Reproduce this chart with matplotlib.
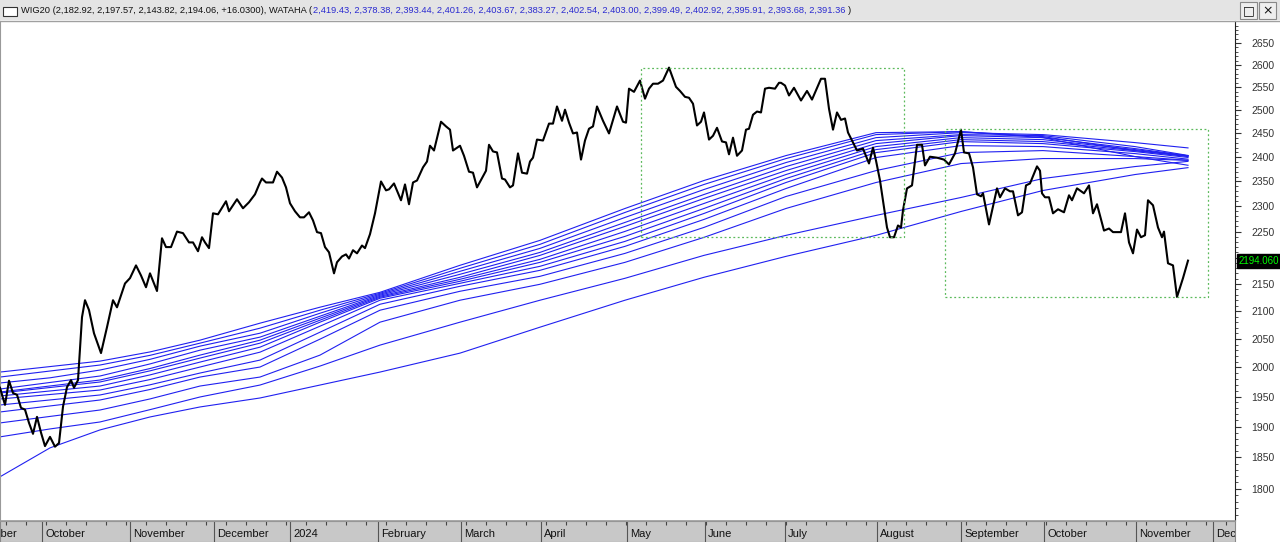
import matplotlib
matplotlib.use("Agg")
import matplotlib.pyplot as plt
from matplotlib.patches import Rectangle
from matplotlib.ticker import FixedLocator, NullFormatter
import numpy as np

# WIG20 daily closes as (session, close); one session ~ one trading day
wig20 = [
    (0, 1965), (1.25, 1936), (2.25, 1977), (3.25, 1956), (4.25, 1953), (5.25, 1931),
    (6.25, 1928), (7.25, 1906), (8.25, 1888), (9.25, 1916), (10.25, 1890), (11.25, 1868),
    (12.5, 1883), (13.75, 1867), (14.75, 1873), (15.75, 1933), (16.75, 1966), (17.75, 1978),
    (18.5, 1965), (19.5, 1978), (20.5, 2089), (21.25, 2120), (22.25, 2102), (23.5, 2060),
    (25.25, 2025), (26.75, 2071), (28.25, 2120), (29.25, 2107), (31.25, 2151), (32.5, 2161),
    (34, 2185), (35.25, 2166), (36.5, 2144), (37.5, 2170), (39.25, 2137), (40.5, 2237),
    (41.5, 2220), (42.75, 2220), (44.25, 2250), (45.75, 2247), (47.25, 2229), (48.25, 2229),
    (49.5, 2212), (50.5, 2239), (51.25, 2229), (52.25, 2218), (53.25, 2286), (54.5, 2284),
    (56.5, 2310), (57.25, 2290), (59.25, 2314), (60.75, 2296), (62.25, 2308), (63.75, 2324),
    (65, 2348), (65.5, 2356), (66.5, 2348), (68.25, 2348), (69.25, 2370), (70.5, 2358),
    (71.5, 2338), (72.5, 2306), (73.75, 2290), (75, 2278), (76, 2278), (77.25, 2288),
    (78.25, 2272), (79.25, 2249), (80.25, 2247), (81.25, 2220), (82.25, 2210), (83.5, 2170),
    (84.25, 2191), (85.5, 2202), (86.5, 2206), (87.25, 2198), (88.25, 2214), (89.25, 2208),
    (90.5, 2223), (91.25, 2218), (92.5, 2245), (93.75, 2286), (95.25, 2350), (96.5, 2332),
    (97.25, 2334), (98.5, 2346), (100.25, 2312), (101.25, 2344), (102.25, 2304), (103.25, 2348),
    (104.25, 2352), (105.75, 2379), (106.75, 2391), (107.5, 2424), (108.5, 2414), (110.25, 2475),
    (111.5, 2465), (112.5, 2458), (113.25, 2414), (115, 2424), (116, 2403), (117.25, 2370),
    (118.25, 2368), (119.25, 2338), (121.5, 2372), (122.25, 2426), (123.25, 2412), (124.25, 2410),
    (125.5, 2356), (126.25, 2354), (127.5, 2338), (128.25, 2342), (129.5, 2408), (130.5, 2368),
    (131.75, 2366), (132.5, 2391), (133.25, 2399), (134.25, 2437), (135.75, 2435), (137.25, 2471),
    (138.25, 2471), (139.25, 2508), (140.5, 2477), (141.25, 2501), (142.25, 2473), (143.25, 2450),
    (144.25, 2452), (145.25, 2395), (146.25, 2435), (147.25, 2460), (148.25, 2465), (149.25, 2508),
    (150.75, 2477), (152.25, 2450), (154.25, 2508), (155.75, 2475), (156.5, 2473), (157.25, 2547),
    (158.5, 2540), (160, 2565), (161.25, 2525), (162.25, 2547), (163.25, 2558), (164.5, 2558),
    (165.75, 2565), (167.25, 2594), (169, 2551), (170, 2542), (171.25, 2529), (172.25, 2527),
    (173.25, 2514), (174.25, 2467), (175.25, 2475), (176, 2495), (177.25, 2437), (178.25, 2445),
    (179.25, 2462), (180.5, 2433), (181.5, 2431), (182.25, 2406), (183.25, 2441), (184.25, 2403),
    (185.5, 2414), (186.5, 2458), (187.25, 2460), (188.25, 2490), (189.25, 2497), (190.25, 2495),
    (191.25, 2547), (192.25, 2549), (193.75, 2547), (194.75, 2560), (195.25, 2560), (196.25, 2554),
    (197.25, 2532), (198.5, 2549), (200.25, 2521), (201.75, 2542), (203, 2523), (205.25, 2569),
    (206.25, 2569), (207.25, 2503), (208.25, 2458), (209.25, 2495), (210.25, 2479), (211.25, 2482),
    (212, 2452), (213, 2435), (214.25, 2414), (215.75, 2418), (217.25, 2387), (218.25, 2420),
    (219, 2393), (220, 2352), (221.75, 2258), (222.5, 2239), (223.5, 2239), (224.5, 2262),
    (225.25, 2258), (225.75, 2292), (226.75, 2336), (228, 2342), (229.25, 2426), (230.5, 2426),
    (231.25, 2383), (232.5, 2401), (234.25, 2399), (236, 2395), (237.25, 2385), (238.75, 2408),
    (240.25, 2458), (241, 2410), (242.25, 2408), (243.25, 2379), (244.25, 2324), (245.25, 2320),
    (245.75, 2326), (247.25, 2264), (249.25, 2336), (250, 2318), (251.25, 2336), (252.5, 2330),
    (253.25, 2330), (254.5, 2282), (255.5, 2288), (256.5, 2342), (257.5, 2346), (259.25, 2381),
    (260, 2372), (260.5, 2326), (261.25, 2318), (262.25, 2318), (263.25, 2286), (264.5, 2294),
    (266, 2288), (267.25, 2322), (268, 2312), (269.25, 2336), (271, 2326), (272.25, 2342),
    (273.25, 2286), (274.25, 2304), (276, 2252), (277.25, 2256), (278.25, 2249), (280.25, 2249),
    (281.25, 2286), (282.25, 2229), (283.25, 2208), (284.25, 2254), (285.25, 2239), (286.25, 2243),
    (287, 2312), (288.25, 2302), (289.5, 2258), (290.5, 2239), (291, 2250), (292, 2189),
    (293.25, 2185), (294.25, 2126), (295.75, 2161), (297, 2194.06),
]
days = [d for d, c in wig20]
closes = [c for d, c in wig20]

# last bar: open, high, low, close, change
wig20_ohlc = [2182.92, 2197.57, 2143.82, 2194.06]
wig20_change = 16.03

# WATAHA ribbon (13 moving averages), read at these sessions
ma_days = [0, 12.5, 25, 37.5, 50, 65, 80, 95, 115, 135, 156.25, 176, 196.5, 219, 240.25,
           260.75, 283.75, 297]
wataha_1 = [1973.1, 1982.0, 1995.4, 2014.0, 2037.2, 2060.2, 2096.2, 2131.0, 2173.8, 2217.5,
             2277.8, 2333.7, 2388.9, 2441.1, 2451.7, 2447.5, 2430.6, 2419.43]
wataha_2 = [1818.9, 1865.1, 1894.4, 1915.8, 1932.5, 1947.6, 1969.6, 1991.9, 2024.9, 2071.0,
             2120.0, 2162.6, 2202.2, 2242.7, 2289.6, 2331.7, 2364.2, 2378.38]
wataha_3 = [1905.9, 1916.7, 1927.4, 1946.0, 1967.9, 1983.3, 2021.4, 2080.0, 2120.0, 2149.5,
             2190.8, 2238.8, 2295.6, 2347.9, 2386.8, 2397.2, 2397.2, 2393.44]
wataha_4 = [1983.3, 1993.7, 2004.1, 2021.0, 2042.5, 2069.2, 2101.7, 2132.8, 2179.5, 2225.3,
             2287.7, 2343.9, 2397.2, 2447.5, 2453.8, 2443.3, 2413.8, 2401.26]
wataha_5 = [1962.8, 1974.0, 1985.1, 2006.0, 2030.1, 2053.2, 2090.8, 2129.2, 2168.2, 2209.8,
             2268.0, 2323.6, 2380.6, 2434.8, 2447.5, 2445.4, 2422.2, 2403.67]
wataha_6 = [1991.9, 2001.4, 2010.9, 2027.0, 2047.8, 2078.2, 2107.2, 2134.6, 2185.2, 2233.0,
             2295.6, 2352.0, 2403.4, 2451.7, 2453.8, 2441.1, 2401.3, 2383.27]
wataha_7 = [1951.0, 1959.5, 1967.9, 1987.0, 2009.2, 2035.4, 2080.0, 2123.6, 2155.1, 2190.8,
             2240.7, 2295.6, 2356.0, 2415.9, 2436.9, 2432.7, 2413.8, 2402.54]
wataha_8 = [1957.7, 1968.0, 1978.2, 1998.0, 2021.4, 2047.8, 2087.2, 2127.3, 2162.6, 2204.1,
             2260.2, 2315.6, 2372.3, 2428.5, 2445.4, 2441.1, 2418.0, 2403.00]
wataha_9 = [1945.9, 1953.5, 1961.1, 1979.0, 2000.6, 2026.6, 2072.8, 2120.0, 2151.3, 2183.3,
             2231.0, 2285.7, 2347.9, 2409.6, 2432.7, 2428.5, 2411.7, 2399.49]
wataha_10 = [1956.0, 1965.4, 1974.8, 1994.0, 2016.2, 2042.5, 2083.6, 2125.5, 2158.8, 2196.5,
              2250.4, 2305.6, 2364.2, 2422.2, 2441.1, 2436.9, 2415.9, 2402.92]
wataha_11 = [1935.8, 1944.3, 1952.7, 1970.0, 1990.2, 2012.7, 2062.0, 2112.6, 2145.8, 2175.7,
              2221.4, 2273.9, 2335.7, 2399.3, 2424.3, 2422.2, 2407.5, 2395.91]
wataha_12 = [1924.1, 1934.2, 1944.2, 1962.0, 1983.3, 2000.6, 2049.6, 2101.7, 2136.5, 2164.4,
              2207.9, 2258.2, 2319.6, 2372.3, 2409.6, 2413.8, 2401.3, 2393.68]
wataha_13 = [1883.0, 1896.0, 1907.5, 1928.0, 1949.3, 1969.6, 2002.3, 2039.0, 2080.0, 2120.0,
              2160.7, 2204.1, 2242.7, 2281.8, 2317.6, 2356.0, 2380.6, 2391.36]
wataha = [wataha_1, wataha_2, wataha_3, wataha_4, wataha_5, wataha_6, wataha_7,
          wataha_8, wataha_9, wataha_10, wataha_11, wataha_12, wataha_13]

# month boundaries (session) and names on the time axis
month_pos = [-10.25, 10.5, 32.5, 53.5, 72.5, 94.5, 115.25, 135.25, 156.75, 176.25,
             196.25, 219.25, 240.25, 261, 284, 303.25]
month_names = ['September', 'October', 'November', 'December', '2024', 'February', 'March',
               'April', 'May', 'June', 'July', 'August', 'September', 'October', 'November',
               'December']

y_ticks = list(range(1800, 2700, 50))

# dotted boxes drawn on the chart: (first session, last session, low, high)
boxes = [(160.25, 226, 2239, 2594), (236.25, 302, 2126, 2460)]

W, H = 1280, 542
fig = plt.figure(figsize=(W / 100, H / 100), dpi=100)
fig.patch.set_facecolor('white')
font = 'Liberation Sans'

# main chart
ax = fig.add_axes([0, 22 / H, 1235 / W, 499 / H])
ax.set_yscale('log')
ax.set_xlim(0, 308.75)
ax.set_ylim(1752, 2701)

for ma in wataha:
    ax.plot(ma_days, ma, color='#2020f0', lw=0.8, zorder=2)
ax.plot(days, closes, color='black', lw=1.5, zorder=3, solid_joinstyle='round')

for x0, x1, lo, hi in boxes:
    ax.add_patch(Rectangle((x0, lo), x1 - x0, hi - lo, fill=False, edgecolor='#5cba5c',
                           lw=0.9, linestyle=(0, (1.5, 2)), zorder=4))

ax.yaxis.tick_right()
ax.yaxis.set_major_locator(FixedLocator(y_ticks))
# the 2200 label sits under the last-price box
ax.yaxis.set_major_formatter(plt.FuncFormatter(lambda v, p: '' if v == 2200 else f'{v:.0f}'))
ax.yaxis.set_minor_locator(FixedLocator(list(range(1760, 2700, 10))))
ax.yaxis.set_minor_formatter(NullFormatter())
ax.tick_params(axis='y', which='major', direction='out', length=4.5, width=0.8,
               color='#333333', labelsize=7.5, labelcolor='#333333', pad=7.5)
ax.tick_params(axis='y', which='minor', direction='out', length=2.2, width=0.6, color='#333333')
for lab in ax.get_yticklabels():
    lab.set_fontfamily(font)
ax.set_xticks([])
for s in ['top', 'bottom']:
    ax.spines[s].set_visible(False)
ax.spines['right'].set_color('#222222')
ax.spines['right'].set_linewidth(0.8)
ax.spines['left'].set_color('#999999')

# last price marker on the scale
ax.text(1.003, closes[-1], f'{closes[-1]:.3f}', transform=ax.get_yaxis_transform(),
        ha='left', va='center', fontsize=7, color='#00ff00', family=font, clip_on=False,
        zorder=10, bbox=dict(boxstyle='square,pad=0.2', fc='black', ec='black'))

# time axis band
axb = fig.add_axes([0, 0, 1235 / W, 21 / H])
axb.set_facecolor('#c8c8c8')
axb.set_xlim(ax.get_xlim())
axb.set_ylim(0, 1)
axb.set_yticks([])
axb.set_xticks(np.arange(1.5, 308, 5))
axb.tick_params(axis='x', bottom=False, top=True, direction='in', length=3,
                color='#444444', labelbottom=False)
for p, name in zip(month_pos, month_names):
    axb.axvline(p, color='#555555', lw=0.8)
    axb.text(p + 0.8, 0.36, name, ha='left', va='center', fontsize=8,
             family=font, color='#111111', clip_on=True)
for s in axb.spines.values():
    s.set_color('#888888')
    s.set_linewidth(0.8)
fig.add_artist(plt.Line2D([0, 1235 / W], [21.5 / H, 21.5 / H], color='#9a9a9a', lw=1.2))

# header bar
fig.add_artist(Rectangle((0, 1 - 20 / H), 1, 20 / H, transform=fig.transFigure,
                         fc='#e4e4e4', ec='none'))
fig.add_artist(plt.Line2D([0, 1], [1 - 20.5 / H, 1 - 20.5 / H], color='#a0a0a0', lw=1))
fig.add_artist(Rectangle((3 / W, 1 - 16 / H), 14 / W, 9 / H, transform=fig.transFigure,
                         fc='white', ec='#333333', lw=0.8))

head_black = 'WIG20 (' + ', '.join(f'{v:,.2f}' for v in wig20_ohlc) + \
             f', +{wig20_change:.4f}), WATAHA ('
head_blue = ', '.join(f'{v[-1]:,.2f}' for v in wataha)
ty = 1 - 10.5 / H
fig.canvas.draw()
r = fig.canvas.get_renderer()
t1 = fig.text(21 / W, ty, head_black, fontsize=6.7, family=font, color='#111111', va='center')
bb = t1.get_window_extent(r)
t2 = fig.text(bb.x1 / W + 1 / W, ty, head_blue, fontsize=6.7, family=font, color='#2a2ad0',
              va='center')
bb2 = t2.get_window_extent(r)
fig.text(bb2.x1 / W + 3 / W, ty, ')', fontsize=6.7, family=font, color='#111111', va='center')

# window buttons
for bx, sym in [(1240, '\u25a1'), (1259, '\u00d7')]:
    fig.add_artist(Rectangle((bx / W, 1 - 19 / H), 17 / W, 17 / H, transform=fig.transFigure,
                             fc='#eeeeee', ec='#888888', lw=0.8))
    fig.text((bx + 8.5) / W, 1 - 10.5 / H, sym, fontsize=9, ha='center', va='center',
             family='DejaVu Sans', color='#111111')

fig.savefig('out.png', dpi=100)
